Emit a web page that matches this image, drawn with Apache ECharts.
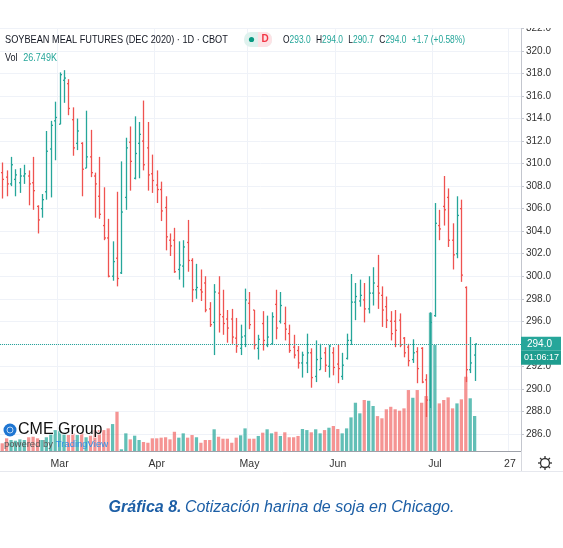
<!DOCTYPE html>
<html>
<head>
<meta charset="UTF-8">
<title>Soybean meal futures</title>
<script src="https://cdn.jsdelivr.net/npm/echarts@6.0.0/dist/echarts.min.js"></script>
<style>
  html, body { margin: 0; padding: 0; background: #fff; }
  #main { width: 563px; height: 548px; }
</style>
</head>
<body>
<div id="main"></div>
<script>
  // trading days, Feb 11 - Jul 15 2020
  var dates = [
    '02-11', '02-12', '02-13', '02-14', '02-18', '02-19', '02-20', '02-21', '02-24', '02-25', '02-26', '02-27', '02-28',
    '03-02', '03-03', '03-04', '03-05', '03-06', '03-09', '03-10', '03-11', '03-12', '03-13', '03-16', '03-17', '03-18',
    '03-19', '03-20', '03-23', '03-24', '03-25', '03-26', '03-27', '03-30', '03-31',
    '04-01', '04-02', '04-03', '04-06', '04-07', '04-08', '04-09', '04-13', '04-14', '04-15', '04-16', '04-17', '04-20',
    '04-21', '04-22', '04-23', '04-24', '04-27', '04-28', '04-29', '04-30',
    '05-01', '05-04', '05-05', '05-06', '05-07', '05-08', '05-11', '05-12', '05-13', '05-14', '05-15', '05-18', '05-19',
    '05-20', '05-21', '05-22', '05-26', '05-27', '05-28', '05-29',
    '06-01', '06-02', '06-03', '06-04', '06-05', '06-08', '06-09', '06-10', '06-11', '06-12', '06-15', '06-16', '06-17',
    '06-18', '06-19', '06-22', '06-23', '06-24', '06-25', '06-26', '06-29', '06-30',
    '07-01', '07-02', '07-06', '07-07', '07-08', '07-09', '07-10', '07-13', '07-14', '07-15'
  ];
  // empty days on the right of the last bar
  var futureDates = ['07-16', '07-17', '07-20', '07-21', '07-22', '07-23', '07-24', '07-27', '07-28', '07-29'];

  var opens = [
    309.2, 308.8, 308.2, 308.6, 308.3, 308.9, 308.9, 308.3, 306.2, 306.0,
    307.5, 311.3, 313.8, 313.5, 317.4, 317.1, 313.9, 311.8, 311.8, 309.6,
    310.6, 308.9, 307.1, 304.5, 303.4, 300.0, 301.6, 300.3, 307.0, 311.9,
    308.7, 311.8, 312.0, 311.4, 309.1, 308.1, 307.7, 306.1, 303.2, 303.2,
    300.6, 300.9, 303.0, 301.4, 298.8, 298.8, 299.4, 297.1, 295.9, 298.5,
    296.4, 296.2, 296.2, 294.5, 293.6, 294.7, 297.6, 297.0, 293.6, 295.8,
    293.9, 294.0, 297.5, 296.0, 295.8, 294.9, 293.7, 293.4, 292.3, 292.3,
    293.2, 291.1, 291.7, 293.2, 292.0, 293.2, 292.2, 291.1, 292.7, 294.3,
    297.7, 297.8, 297.9, 297.1, 298.5, 299.1, 298.3, 297.3, 296.0, 296.0,
    296.1, 294.5, 293.7, 292.6, 293.3, 293.6, 290.8, 289.0, 296.5, 304.5,
    306.2, 307.0, 303.2, 302.0, 306.0, 299.0, 291.7, 293.0
  ];
  var highs = [
    310.1, 309.4, 310.6, 309.5, 309.6, 309.9, 309.4, 310.6, 306.3, 307.3,
    312.9, 313.8, 315.5, 318.1, 318.3, 317.5, 315.0, 314.0, 311.9, 314.7,
    313.0, 309.2, 310.6, 307.9, 305.1, 303.1, 307.5, 310.2, 312.3, 313.3,
    314.2, 313.7, 315.6, 313.7, 310.8, 309.4, 308.4, 307.1, 303.8, 304.3,
    303.1, 303.2, 305.0, 301.6, 301.1, 300.6, 300.0, 297.7, 299.3, 300.0,
    298.8, 297.0, 297.1, 296.3, 295.7, 298.9, 298.6, 297.0, 294.8, 296.9,
    296.5, 296.8, 298.8, 298.6, 297.3, 295.7, 294.8, 293.8, 293.3, 294.9,
    293.6, 294.3, 294.0, 293.7, 293.9, 293.7, 293.9, 293.2, 294.9, 300.2,
    299.4, 299.7, 299.4, 300.0, 300.8, 301.9, 299.1, 298.2, 296.9, 297.0,
    296.7, 294.6, 294.0, 294.4, 293.7, 293.7, 291.3, 296.8, 306.5, 305.9,
    308.9, 307.8, 304.7, 307.1, 306.8, 299.1, 294.6, 294.0
  ];
  var lows = [
    306.9, 307.1, 308.0, 307.1, 307.4, 308.2, 306.3, 305.9, 303.8, 305.2,
    306.8, 307.0, 310.3, 313.5, 315.4, 314.3, 310.7, 311.2, 307.1, 309.6,
    308.8, 305.2, 305.1, 303.2, 299.9, 299.6, 299.1, 300.2, 305.9, 307.6,
    308.6, 308.7, 309.4, 307.6, 307.4, 306.5, 304.9, 302.3, 301.8, 300.3,
    299.7, 299.0, 300.4, 297.7, 298.0, 297.8, 296.8, 295.5, 293.0, 295.0,
    294.8, 294.1, 294.0, 293.2, 293.0, 293.7, 295.3, 293.5, 292.6, 293.4,
    293.7, 293.9, 294.4, 295.8, 294.3, 293.2, 292.7, 291.8, 291.0, 291.4,
    290.1, 290.6, 291.7, 291.5, 291.0, 291.2, 290.5, 290.8, 292.6, 293.9,
    296.1, 297.3, 295.9, 296.7, 297.4, 297.1, 295.5, 295.4, 294.3, 293.7,
    293.7, 292.8, 292.0, 292.3, 290.5, 290.5, 287.5, 288.3, 296.4, 303.2,
    304.5, 302.6, 300.6, 301.6, 299.5, 290.6, 291.4, 290.7
  ];
  var closes = [
    308.6, 308.2, 309.9, 309.0, 308.9, 309.1, 308.2, 307.6, 305.0, 306.8,
    311.1, 313.4, 314.1, 317.9, 317.6, 314.9, 311.4, 312.9, 309.5, 310.6,
    309.2, 308.2, 305.5, 303.4, 300.0, 301.3, 299.8, 305.7, 311.4, 310.2,
    310.9, 312.6, 309.9, 309.0, 308.5, 307.7, 305.8, 303.5, 302.7, 300.4,
    301.0, 302.6, 301.4, 298.8, 299.0, 298.6, 297.0, 295.7, 298.6, 296.6,
    295.8, 295.4, 294.6, 293.8, 294.6, 297.9, 295.7, 293.9, 294.4, 294.3,
    294.6, 296.4, 295.4, 297.4, 295.3, 293.4, 293.0, 292.3, 293.0, 293.2,
    291.0, 292.6, 292.7, 292.1, 293.8, 291.9, 291.8, 292.1, 294.3, 297.7,
    298.2, 298.3, 297.1, 298.5, 299.4, 298.5, 297.0, 296.1, 294.9, 295.2,
    293.9, 293.2, 292.5, 293.2, 291.8, 290.6, 289.0, 295.9, 304.7, 304.2,
    305.9, 303.2, 301.9, 305.4, 300.1, 291.7, 292.3, 294.0
  ];
  // volume in thousands of contracts
  var volumes = [
    5.9, 9.7, 8.4, 7.9, 8.9, 8.4, 10.5, 10.9, 9.7, 8.4,
    10.5, 13.5, 16.0, 15.5, 13.5, 12.2, 13.5, 12.2, 14.0, 10.5,
    11.7, 16.0, 16.0, 16.0, 17.3, 20.6, 30.0, 1.3, 13.5, 8.9,
    11.7, 8.4, 6.9, 6.3, 9.7, 9.7, 10.2, 10.5, 8.9, 14.7,
    10.2, 13.5, 10.2, 12.2, 10.5, 6.3, 8.4, 8.4, 16.6, 10.9,
    9.4, 9.4, 6.3, 10.2, 12.0, 17.3, 9.4, 9.4, 11.5, 14.0,
    16.6, 13.5, 14.7, 11.5, 14.3, 10.5, 10.5, 11.5, 16.8, 16.0,
    14.3, 16.6, 13.5, 16.0, 17.8, 19.1, 16.8, 13.5, 17.3, 25.7,
    36.9, 28.8, 39.0, 38.4, 34.4, 26.7, 25.0, 31.9, 33.8, 31.9,
    30.8, 32.6, 46.6, 40.7, 46.6, 36.9, 42.0, 105.7, 81.0, 36.4,
    39.0, 41.0, 32.6, 36.4, 39.5, 56.8, 40.3, 26.749
  ];

  var tickDates = ['03-02', '04-01', '05-01', '06-01', '07-01', '07-27'];
  var tickLabels = ['Mar', 'Apr', 'May', 'Jun', 'Jul', '27'];

  var upColor = '#26a69a';
  var downColor = '#ef5350';
  var upVol = 'rgba(38,166,154,0.72)';
  var downVol = 'rgba(239,83,80,0.62)';
  var font = '"Liberation Sans", Arial, sans-serif';

  var allDates = dates.concat(futureDates);
  var n = dates.length;
  var last = n - 1;
  var change = closes[last] - closes[last - 1];
  var changePct = change / closes[last - 1] * 100;

  var ohlcData = dates.map(function (d, i) {
    return [i, opens[i], highs[i], lows[i], closes[i]];
  });
  var volData = volumes.map(function (v, i) {
    return {
      value: v,
      itemStyle: { color: closes[i] >= opens[i] ? upVol : downVol }
    };
  });

  function isTick(index, value) {
    return tickDates.indexOf(value) >= 0;
  }

  // OHLC bar: high-low stem, open tick left, close tick right
  function renderBar(params, api) {
    var idx = api.value(0);
    var top = api.coord([idx, api.value(2)]);
    var bottom = api.coord([idx, api.value(3)]);
    var openY = api.coord([idx, api.value(1)])[1];
    var closeY = api.coord([idx, api.value(4)])[1];
    var x = Math.round(top[0]) + 0.5;
    var half = api.size([1, 0])[0] * 0.34;
    var color = api.value(4) >= api.value(1) ? upColor : downColor;
    var st = { stroke: color, lineWidth: 1.3 };
    return {
      type: 'group',
      children: [
        { type: 'line', shape: { x1: x, y1: top[1], x2: x, y2: bottom[1] }, style: st },
        { type: 'line', shape: { x1: x - half, y1: openY, x2: x, y2: openY }, style: st },
        { type: 'line', shape: { x1: x, y1: closeY, x2: x + half, y2: closeY }, style: st }
      ]
    };
  }

  var headerOhlc = '{k|O}{v|' + opens[last].toFixed(1) + '}  {k|H}{v|' + highs[last].toFixed(1) +
    '}  {k|L}{v|' + lows[last].toFixed(1) + '}  {k|C}{v|' + closes[last].toFixed(1) + '}  {v|' +
    (change >= 0 ? '+' : '') + change.toFixed(1) + ' (' + (change >= 0 ? '+' : '') + changePct.toFixed(2) + '%)}';

  // gear icon spokes
  var gear = [{ type: 'circle', shape: { cx: 545, cy: 463, r: 4.5 }, style: { fill: 'none', stroke: '#333', lineWidth: 1.3 } }];
  for (var k = 0; k < 8; k++) {
    var a = k * Math.PI / 4;
    gear.push({
      type: 'line',
      shape: { x1: 545 + Math.cos(a) * 4.5, y1: 463 + Math.sin(a) * 4.5, x2: 545 + Math.cos(a) * 7, y2: 463 + Math.sin(a) * 7 },
      style: { stroke: '#333', lineWidth: 1.3 }
    });
  }

  var chart = echarts.init(document.getElementById('main'));
  var option = {
    backgroundColor: '#fff',
    animation: false,
    grid: [
      { left: 0, right: 42, top: 28.5, bottom: 97 },
      { left: 0, right: 42, top: 28.5, bottom: 97 }
    ],
    xAxis: [
      {
        type: 'category',
        gridIndex: 0,
        data: allDates,
        boundaryGap: true,
        axisLine: { lineStyle: { color: '#9ea1a9', width: 1 } },
        axisTick: { show: false },
        axisLabel: {
          interval: isTick,
          color: '#333',
          fontSize: 10.5,
          fontFamily: font,
          margin: 8,
          formatter: function (v) {
            return tickLabels[tickDates.indexOf(v)];
          }
        },
        splitLine: { show: true, interval: isTick, lineStyle: { color: '#eff2f8', width: 1 } }
      },
      { type: 'category', gridIndex: 1, data: allDates, boundaryGap: true, show: false }
    ],
    yAxis: [
      {
        type: 'value',
        gridIndex: 0,
        position: 'right',
        min: 284.48,
        max: 322,
        splitNumber: 19,
        axisLine: { show: true, lineStyle: { color: '#c3c6ce' } },
        axisTick: { show: true, length: 3, lineStyle: { color: '#c3c6ce' } },
        axisLabel: {
          color: '#333',
          fontSize: 10,
          fontFamily: font,
          margin: 5,
          showMinLabel: false,
          formatter: function (v) {
            return Math.abs(v / 2 - Math.round(v / 2)) < 1e-6 ? v.toFixed(1) : '';
          }
        },
        splitLine: { show: true, lineStyle: { color: '#eff2f8', width: 1 } }
      },
      { type: 'value', gridIndex: 1, min: 0, max: 323, show: false }
    ],
    series: [
      {
        name: 'Vol',
        type: 'bar',
        xAxisIndex: 1,
        yAxisIndex: 1,
        barWidth: '74%',
        data: volData
      },
      {
        name: 'ZM',
        type: 'custom',
        xAxisIndex: 0,
        yAxisIndex: 0,
        renderItem: renderBar,
        encode: { x: 0, y: [1, 2, 3, 4] },
        data: ohlcData,
        z: 3,
        markLine: {
          silent: true,
          symbol: 'none',
          lineStyle: { color: upColor, type: 'dotted', width: 1 },
          data: [
            {
              yAxis: closes[last],
              label: {
                show: true, position: 'end', distance: 0, offset: [0, 7],
                formatter: '{a|' + closes[last].toFixed(1) + '}\n{b|01:06:17}',
                rich: {
                  a: {
                    color: '#fff', backgroundColor: upColor, fontSize: 10, fontFamily: font,
                    padding: [2, 6, 2, 6], width: 28, height: 10, lineHeight: 14
                  },
                  b: {
                    color: '#fff', backgroundColor: '#1e9d8f', fontSize: 9, fontFamily: font,
                    padding: [2, 2, 2, 3], width: 35, height: 10, lineHeight: 14
                  }
                }
              }
            }
          ]
        }
      }
    ],
    graphic: [
      // hide the part of the top price label above the pane
      { type: 'rect', z: 100, shape: { x: 522, y: 0, width: 41, height: 28 }, style: { fill: '#fff' } },
      {
        type: 'text', x: 5, y: 40, z: 100, scaleX: 0.8,
        style: {
          text: 'SOYBEAN MEAL FUTURES (DEC 2020) · 1D · CBOT', fill: '#131722', fontSize: 11.5,
          fontFamily: font, verticalAlign: 'middle'
        }
      },
      { type: 'rect', z: 100, shape: { x: 244, y: 32, width: 28, height: 15, r: 7 }, style: { fill: '#dff2ee' } },
      { type: 'rect', z: 101, shape: { x: 258, y: 32, width: 14, height: 15, r: [0, 7, 7, 0] }, style: { fill: '#fde2e5' } },
      { type: 'circle', z: 102, shape: { cx: 251.5, cy: 39.5, r: 2.6 }, style: { fill: '#089981' } },
      {
        type: 'text', z: 102, x: 265, y: 39.5,
        style: { text: 'D', fill: '#f23645', fontSize: 10, fontWeight: 'bold', fontFamily: font, align: 'center', verticalAlign: 'middle' }
      },
      {
        type: 'text', x: 283, y: 40, z: 100, scaleX: 0.8,
        style: {
          text: headerOhlc,
          fontFamily: font,
          verticalAlign: 'middle',
          rich: {
            k: { fill: '#131722', fontSize: 10.5, fontFamily: font },
            v: { fill: upColor, fontSize: 10.5, fontFamily: font }
          }
        }
      },
      {
        type: 'text', x: 5, y: 58, z: 100, scaleX: 0.86,
        style: {
          text: '{k|Vol}  {v|' + volumes[last].toFixed(3) + 'K}',
          verticalAlign: 'middle',
          rich: {
            k: { fill: '#131722', fontSize: 10.5, fontFamily: font },
            v: { fill: upColor, fontSize: 10.5, fontFamily: font }
          }
        }
      },
      // CME Group / TradingView badge
      { type: 'circle', z: 100, shape: { cx: 10, cy: 430, r: 6.5 }, style: { fill: '#1f76d2' } },
      { type: 'circle', z: 101, shape: { cx: 10, cy: 430, r: 3 }, style: { fill: 'none', stroke: 'rgba(255,255,255,0.7)', lineWidth: 1 } },
      {
        type: 'text', z: 100, x: 18, y: 430,
        style: { text: 'CME Group', fill: '#111', fontSize: 16, fontFamily: font, verticalAlign: 'middle', stroke: 'rgba(255,255,255,0.6)', lineWidth: 2 }
      },
      {
        type: 'text', z: 100, x: 4, y: 444,
        style: {
          text: '{p|powered by }{t|TradingView}',
          verticalAlign: 'middle',
          rich: {
            p: { fill: '#555', fontSize: 9.5, fontFamily: font },
            t: { fill: '#2e8fe6', fontSize: 9.5, fontFamily: font }
          }
        }
      },
      // bottom separators
      { type: 'line', z: 100, shape: { x1: 521.5, y1: 451, x2: 521.5, y2: 471 }, style: { stroke: '#d6d8de', lineWidth: 1 } },
      { type: 'line', z: 100, shape: { x1: 0, y1: 471.5, x2: 563, y2: 471.5 }, style: { stroke: '#e6e8ee', lineWidth: 1 } },
      { type: 'group', z: 100, children: gear },
      // caption
      {
        type: 'text', z: 100, x: 281.5, y: 508,
        style: {
          text: '{b|Gráfica 8.} {n|Cotización harina de soja en Chicago.}',
          align: 'center',
          verticalAlign: 'middle',
          rich: {
            b: { fill: '#1d5fa6', fontSize: 16, fontWeight: 'bold', fontStyle: 'italic', fontFamily: font },
            n: { fill: '#1d5fa6', fontSize: 16, fontStyle: 'italic', fontFamily: font }
          }
        }
      }
    ]
  };
  chart.setOption(option);
</script>
</body>
</html>
